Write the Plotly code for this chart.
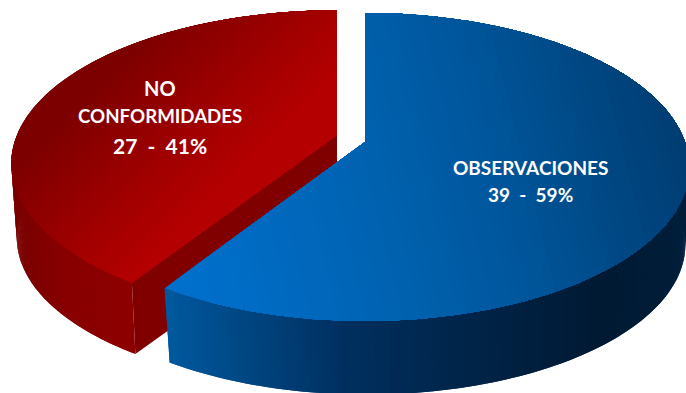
import numpy as np
import plotly.graph_objects as go

# Chart data
categories = ["OBSERVACIONES", "NO CONFORMIDADES"]
values = [39, 27]
label_lines = [["OBSERVACIONES"], ["NO", "CONFORMIDADES"]]

# Page size and per-slice perspective settings, in page pixels
W, H = 686, 393
BLUE_VIEW = dict(cx=365, cy=142, rx=320, ry=150, persp=0.1623, sx=0.983, sy=0.975, shift=1.6, drop=78)
RED_VIEW = dict(cx=337, cy=135, rx=320, ry=148, persp=0.186, sx=0.983, sy=0.975, shift=0, drop=75)


def project(view, px, py, bottom=False):
    """Perspective projection of a point on the unit disk (py points away from the viewer)."""
    w = 1 + view["persp"] * py
    x, y = view["rx"] * px / w, -view["ry"] * py / w
    if bottom:
        x, y = x * view["sx"] + view["shift"], y * view["sy"] + view["drop"]
    return view["cx"] + x, view["cy"] + y


def hex_rgb(c):
    return np.array([int(c[i:i + 2], 16) for i in (1, 3, 5)], float)


def ramp(stops, t):
    pos = [s[0] for s in stops]
    rgb = np.array([hex_rgb(s[1]) for s in stops])
    return "rgb(%d,%d,%d)" % tuple(np.interp(t, pos, rgb[:, i]) for i in range(3))


def clip_halfplane(pts, d, level):
    """Keep the part of a polygon where dot(p, d) >= level."""
    out = []
    n = len(pts)
    for i in range(n):
        a, b = pts[i], pts[(i + 1) % n]
        ta, tb = a[0] * d[0] + a[1] * d[1], b[0] * d[0] + b[1] * d[1]
        if ta >= level:
            out.append(a)
        if (ta >= level) != (tb >= level):
            f = (level - ta) / (tb - ta)
            out.append((a[0] + f * (b[0] - a[0]), a[1] + f * (b[1] - a[1])))
    return out


fig = go.Figure()


def add_poly(pts, color):
    xs = [p[0] for p in pts] + [pts[0][0]]
    ys = [p[1] for p in pts] + [pts[0][1]]
    fig.add_trace(go.Scatter(x=xs, y=ys, mode="lines", fill="toself", fillcolor=color,
                             line=dict(width=0, color=color), hoverinfo="skip", showlegend=False))


def add_gradient(pts, d, stops, bands=48):
    """Paint a polygon as overlapping bands so no seams show between colour steps."""
    ts = [p[0] * d[0] + p[1] * d[1] for p in pts]
    levels = np.linspace(min(ts), max(ts), bands + 1)[:-1]
    for i, lv in enumerate(levels):
        part = pts if i == 0 else clip_halfplane(pts, d, lv)
        if len(part) >= 3:
            add_poly(part, ramp(stops, lv + (levels[1] - levels[0]) / 2))


def add_wall(top, bot, stops):
    """Outer wall as overlapping quads, which keeps the silhouette straight at the extremes."""
    for i in range(len(top) - 1):
        j = min(i + 2, len(top) - 1)
        quad = [top[i], top[j], bot[j], bot[i]]
        add_poly(quad, ramp(stops, (top[i][0] + top[j][0]) / 2))


total = sum(values)
fractions = [v / total for v in values]
start_blue, end_blue = 0.0, 2 * np.pi * fractions[0]
start_red, end_red = end_blue, 2 * np.pi


def arc(view, a0, a1, bottom=False, n=320):
    return [project(view, np.sin(t), np.cos(t), bottom) for t in np.linspace(a0, a1, n)]


# Exploded red slice, drawn first so the blue slice overlaps its walls
red_top = arc(RED_VIEW, start_red, end_red)
red_bot = arc(RED_VIEW, start_red, end_red, bottom=True)
red_apex_top = project(RED_VIEW, 0, 0)
red_apex_bot = project(RED_VIEW, 0, 0, bottom=True)

add_wall(red_top, red_bot, [(10, "#780000"), (60, "#880000"), (140, "#8f0000"), (340, "#8f0000")])
add_poly([red_apex_top, red_top[0], red_bot[0], red_apex_bot], "#800000")
add_gradient(red_top + [red_apex_top], (0.707, 0.707),
             [(126, "#7c0000"), (175, "#8e0000"), (245, "#a60000"), (290, "#b40000"), (500, "#b40000")])

# Blue slice
blue_top = arc(BLUE_VIEW, start_blue, end_blue)
blue_bot = arc(BLUE_VIEW, start_blue, end_blue, bottom=True)
blue_apex_top = project(BLUE_VIEW, 0, 0)

add_wall(blue_top, blue_bot, [(165, "#00599f"), (250, "#00457f"), (340, "#003060"), (450, "#00264c"),
                              (600, "#001a33"), (690, "#001f3b")])
add_gradient(blue_top + [blue_apex_top], (0.97, -0.24),
             [(120, "#0070cc"), (320, "#0062b0"), (450, "#00559a"), (640, "#003c70")], bands=60)


# Labels on the top faces
def add_text(x, y, text, size):
    fig.add_annotation(x=x, y=y, text=text, showarrow=False, xanchor="center", yanchor="middle",
                       font=dict(family="Lato", size=size, color="white", weight="bold"))


value_text = [f"{v}  -  {round(f * 100)}%" for v, f in zip(values, fractions)]
add_text(530, 167, label_lines[0][0], 19)
add_text(530, 194, value_text[0], 19)
add_text(160, 88, label_lines[1][0], 20)
add_text(160, 116, label_lines[1][1], 18.7)
add_text(160, 145, value_text[1], 21)

fig.update_layout(
    width=W, height=H, margin=dict(l=0, r=0, t=0, b=0),
    paper_bgcolor="white", plot_bgcolor="white", showlegend=False,
    xaxis=dict(range=[0, W], visible=False, fixedrange=True),
    yaxis=dict(range=[H, 0], visible=False, fixedrange=True),
)
fig.write_html("out.html", config=dict(displayModeBar=False))
